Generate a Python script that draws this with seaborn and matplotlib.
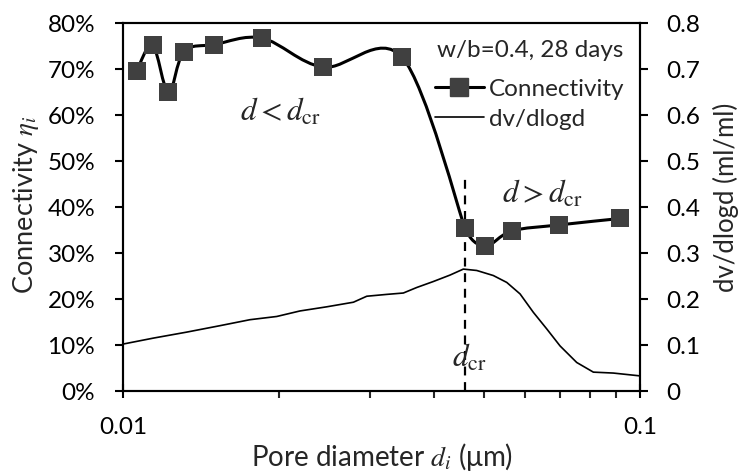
import numpy as np
import matplotlib
matplotlib.use('Agg')
import matplotlib.pyplot as plt
import seaborn as sns
from matplotlib.path import Path
from matplotlib.patches import PathPatch
from matplotlib.lines import Line2D
from matplotlib.ticker import PercentFormatter, FixedLocator, LogLocator, NullFormatter, FixedFormatter

# Connectivity vs pore diameter (um), left axis
conn_d = [0.01063, 0.01141, 0.01224, 0.01312, 0.01502, 0.01859, 0.02440,
          0.03469, 0.04586, 0.05013, 0.05647, 0.06970, 0.09148]
conn_eta = [0.696, 0.752, 0.649, 0.738, 0.753, 0.767, 0.704,
            0.725, 0.354, 0.315, 0.348, 0.361, 0.375]

# pore size distribution dv/dlogd (ml/ml), right axis
psd_d = [0.0100, 0.01145, 0.01328, 0.01540, 0.01760, 0.01983, 0.02199, 0.02477,
         0.02790, 0.02961, 0.03236, 0.03485, 0.03699, 0.03983, 0.04290, 0.04552,
         0.04832, 0.05203, 0.05524, 0.05861, 0.06218, 0.06600, 0.07003, 0.07543,
         0.08123, 0.08878, 0.0997]
psd_dv = [0.102, 0.115, 0.128, 0.142, 0.155, 0.162, 0.174, 0.183,
          0.193, 0.206, 0.210, 0.213, 0.225, 0.238, 0.252, 0.265,
          0.262, 0.251, 0.236, 0.211, 0.171, 0.135, 0.098, 0.062,
          0.041, 0.039, 0.033]

d_cr = 0.0459
left_ticks = [0, 0.1, 0.2, 0.3, 0.4, 0.5, 0.6, 0.7, 0.8]
right_ticks = [0, 0.1, 0.2, 0.3, 0.4, 0.5, 0.6, 0.7, 0.8]
right_labels = ['0', '0.1', '0.2', '0.3', '0.4', '0.5', '0.6', '0.7', '0.8']

sns.set_style('ticks')
plt.rcParams['font.family'] = ['Lato', 'DejaVu Sans']
plt.rcParams['mathtext.fontset'] = 'stix'
plt.rcParams['axes.linewidth'] = 1.5


def smooth_path(axis, x, y):
    # Excel-like smoothed line: bezier through the points, built in screen space
    pts = axis.transData.transform(np.column_stack([x, y]))
    n = len(pts)
    tang = []
    for i in range(n):
        p0 = pts[max(i - 1, 0)]
        p2 = pts[min(i + 1, n - 1)]
        d02 = np.hypot(*(p2 - p0))
        d01 = np.hypot(*(pts[i] - p0))
        d12 = np.hypot(*(p2 - pts[i]))
        short = min(d01, d12) if i not in (0, n - 1) else max(d01, d12)
        f = 1 / 6 if d02 == 0 else min(1 / 6, short / (2 * d02))
        tang.append((p2 - p0) * f)
    verts = [pts[0]]
    codes = [Path.MOVETO]
    for i in range(n - 1):
        verts += [pts[i] + tang[i], pts[i + 1] - tang[i + 1], pts[i + 1]]
        codes += [Path.CURVE4] * 3
    verts = axis.transData.inverted().transform(np.array(verts))
    return Path(verts, codes)


fig, ax = plt.subplots(figsize=(7.47, 4.77), dpi=100)
fig.subplots_adjust(left=0.1647, right=0.8568, bottom=0.1782, top=0.9497)
ax2 = ax.twinx()

ax.set_xscale('log')
ax.set_xlim(0.01, 0.1)
ax.set_ylim(0, 0.8)
ax2.set_ylim(0, 0.8)

# connectivity: smoothed line + square markers
ax.add_patch(PathPatch(smooth_path(ax, conn_d, conn_eta), fill=False,
                       edgecolor='black', lw=2.2, zorder=3))
sns.scatterplot(x=conn_d, y=conn_eta, ax=ax, marker='s', s=180,
                color='#404040', edgecolor='#404040', linewidth=0, zorder=4)

# dv/dlogd curve
sns.lineplot(x=psd_d, y=psd_dv, ax=ax2, color='black', lw=1.2)

# critical diameter
ax.plot([d_cr, d_cr], [0, 0.47], color='black', lw=1.6, ls=(0, (4, 3)))

ax.set_xlim(0.01, 0.1)
ax.set_ylim(0, 0.8)
ax2.set_ylim(0, 0.8)

ax.xaxis.set_major_locator(FixedLocator([0.01, 0.1]))
ax.xaxis.set_major_formatter(FixedFormatter(['0.01', '0.1']))
ax.xaxis.set_minor_locator(LogLocator(base=10, subs=np.arange(2, 10)))
ax.xaxis.set_minor_formatter(NullFormatter())
ax.set_yticks(left_ticks)
ax.yaxis.set_major_formatter(PercentFormatter(1.0, decimals=0))
ax2.set_yticks(right_ticks)
ax2.set_yticklabels(right_labels)

for a in (ax, ax2):
    for s in a.spines.values():
        s.set_visible(True)
        s.set_linewidth(1.5)
        s.set_color('black')

ax.tick_params(axis='x', which='major', direction='inout', length=10, width=1.5,
               labelsize=17.5, pad=13, colors='black')
ax.tick_params(axis='x', which='minor', direction='out', length=5, width=1.5)
ax.tick_params(axis='y', direction='out', length=6, width=1.5, labelsize=17.5,
               pad=14, colors='black', right=False)
ax2.tick_params(axis='y', direction='out', length=6, width=1.5, labelsize=17.5,
                pad=13, colors='black')

ax.set_xlabel(r'Pore diameter $d_i$ (μm)', fontsize=20, labelpad=2)
ax.set_ylabel(r'Connectivity $\eta_i$', fontsize=19.5)
ax.yaxis.set_label_coords(-0.158, 0.508)
ax2.set_ylabel('dv/dlogd (ml/ml)', fontsize=18.5)
ax2.yaxis.set_label_coords(1.141, 0.53)

ax.text(0.02013, 0.61, r'$d < d_{\mathrm{cr}}$', fontsize=22.5, ha='center', va='center')
ax.text(0.06463, 0.432, r'$d > d_{\mathrm{cr}}$', fontsize=22.5, ha='center', va='center')
ax.text(0.0467, 0.075, r'$d_{\mathrm{cr}}$', fontsize=22.5, ha='center', va='center')

# legend title as plain text, entries below it
ax2.text(0.607, 0.927, 'w/b=0.4, 28 days', transform=ax2.transAxes,
         fontsize=17.5, ha='left', va='center')
handles = [Line2D([], [], color='black', lw=2.2, marker='s', ms=13.5,
                  mfc='#404040', mec='#404040'),
           Line2D([], [], color='black', lw=1.2)]
leg = ax2.legend(handles, ['Connectivity', 'dv/dlogd'],
                 loc='upper left', bbox_to_anchor=(0.6035, 0.85), frameon=False,
                 fontsize=17.5, handlelength=2.0, handletextpad=0.2,
                 labelspacing=0.38, borderaxespad=0, borderpad=0)

fig.savefig('out.png', dpi=100)
